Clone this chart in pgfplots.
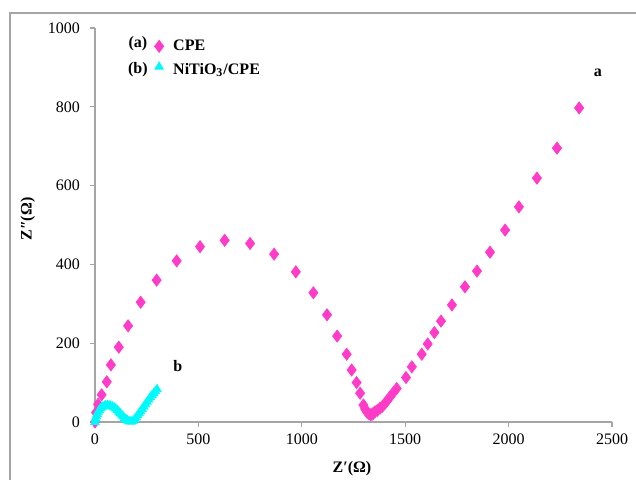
\documentclass[border=0pt]{standalone}
\usepackage{fontspec}
\setmainfont{Liberation Serif}
\usepackage{pgfplots}
\pgfplotsset{compat=1.18}
\definecolor{cpe}{RGB}{255,60,200}
\definecolor{nti}{RGB}{0,250,250}
\definecolor{axgray}{RGB}{165,165,165}
\newcommand{\fs}{\fontsize{8}{9.6}\selectfont}
\pgfplotsset{myleg/.style={legend image code/.code={\draw[##1, only marks] plot coordinates {(0.19cm,#1)}; \path (0cm,0cm) (0.36cm,0cm);}}}
\begin{document}
\begin{tikzpicture}
\useasboundingbox (0,0) rectangle (318pt,240pt);
\draw[axgray, line width=0.8pt] (5pt,-5pt) -- (5pt,233.5pt) -- (330pt,233.5pt);
\begin{axis}[
 at={(47.5pt,29pt)}, anchor=south west,
 scale only axis, width=258.5pt, height=197pt,
 xmin=0, xmax=2500, ymin=0, ymax=1000,
 axis lines=left, axis line style={axgray, -, line width=0.6pt},
 xtick={0,500,...,2500}, ytick={0,200,...,1000},
 tick align=outside, major tick length=2.5pt, tick style={axgray, line width=0.6pt},
 ticklabel style={font=\fs},
 /pgf/number format/assume math mode=true,
 scaled ticks=false, /pgf/number format/1000 sep={},
 yticklabel style={xshift=-1.5pt},
 clip=false,
 xlabel={\bfseries Z\char"2032(Ω)},
 ylabel={\bfseries Z\char"2033(Ω)},
 xlabel style={font=\fs, at={(axis description cs:0.497,-0.119)}, anchor=center},
 ylabel style={font=\fs, at={(axis description cs:-0.13,0.515)}, anchor=center},
 legend style={draw=none, fill=none, at={(axis description cs:0.09,0.992)}, anchor=north west, font=\bfseries\fs, row sep=1pt},
 legend cell align=left,
]
\addplot[only marks, mark=diamond*, mark size=3pt, color=cpe, myleg=0cm]
 coordinates {
 (0,0) (5,24) (15,45) (32,69) (57,102) (77,145) (115,190) (160,244) (221,304)
 (298,360) (395,409) (508,445) (627,461) (750,453) (866,426) (971,381)
 (1056,328) (1122,272) (1171,218) (1217,172) (1241,132) (1265,100) (1282,73)
 (1298,43) (1306,33) (1314,26) (1322,22) (1333,18) (1340,20) (1346,22) (1354,26)
 (1366,30) (1378,35) (1390,40) (1402,47) (1414,55) (1427,64) (1443,75) (1459,85)
 (1504,113) (1532,140) (1580,172) (1609,198) (1641,227) (1673,256) (1726,297)
 (1789,343) (1847,383) (1910,431) (1983,487) (2050,546) (2137,619) (2234,695)
 (2341,797)
 };
\addlegendentry{CPE}
\addplot[only marks, mark=triangle*, mark size=2.4pt, color=nti, myleg=0.06cm]
 coordinates {
 (0,0) (3,8) (6,14) (10,20) (15,26) (20,30) (26,34) (32,37) (38,39) (45,41)
 (52,42) (60,42) (68,42) (76,41) (84,39) (92,37) (100,34) (108,30) (115,26)
 (122,22) (129,18) (136,14) (143,10) (150,7) (157,4) (164,2) (171,1) (178,1)
 (185,3) (192,7) (199,12) (206,17) (213,22) (220,27) (228,33) (236,39)
 (244,45) (252,51) (260,57) (268,63) (276,68) (284,73) (292,78) (300,83)
 };
\addlegendentry{NiTiO\textsubscript{3}/CPE}
\node[font=\bfseries\fs] at (axis description cs:0.083,0.959) {(a)};
\node[font=\bfseries\fs] at (axis description cs:0.083,0.894) {(b)};
\node[font=\bfseries\fs] at (axis cs:2432,886) {a};
\node[font=\bfseries\fs] at (axis cs:401,142) {b};
\end{axis}
\end{tikzpicture}
\end{document}
